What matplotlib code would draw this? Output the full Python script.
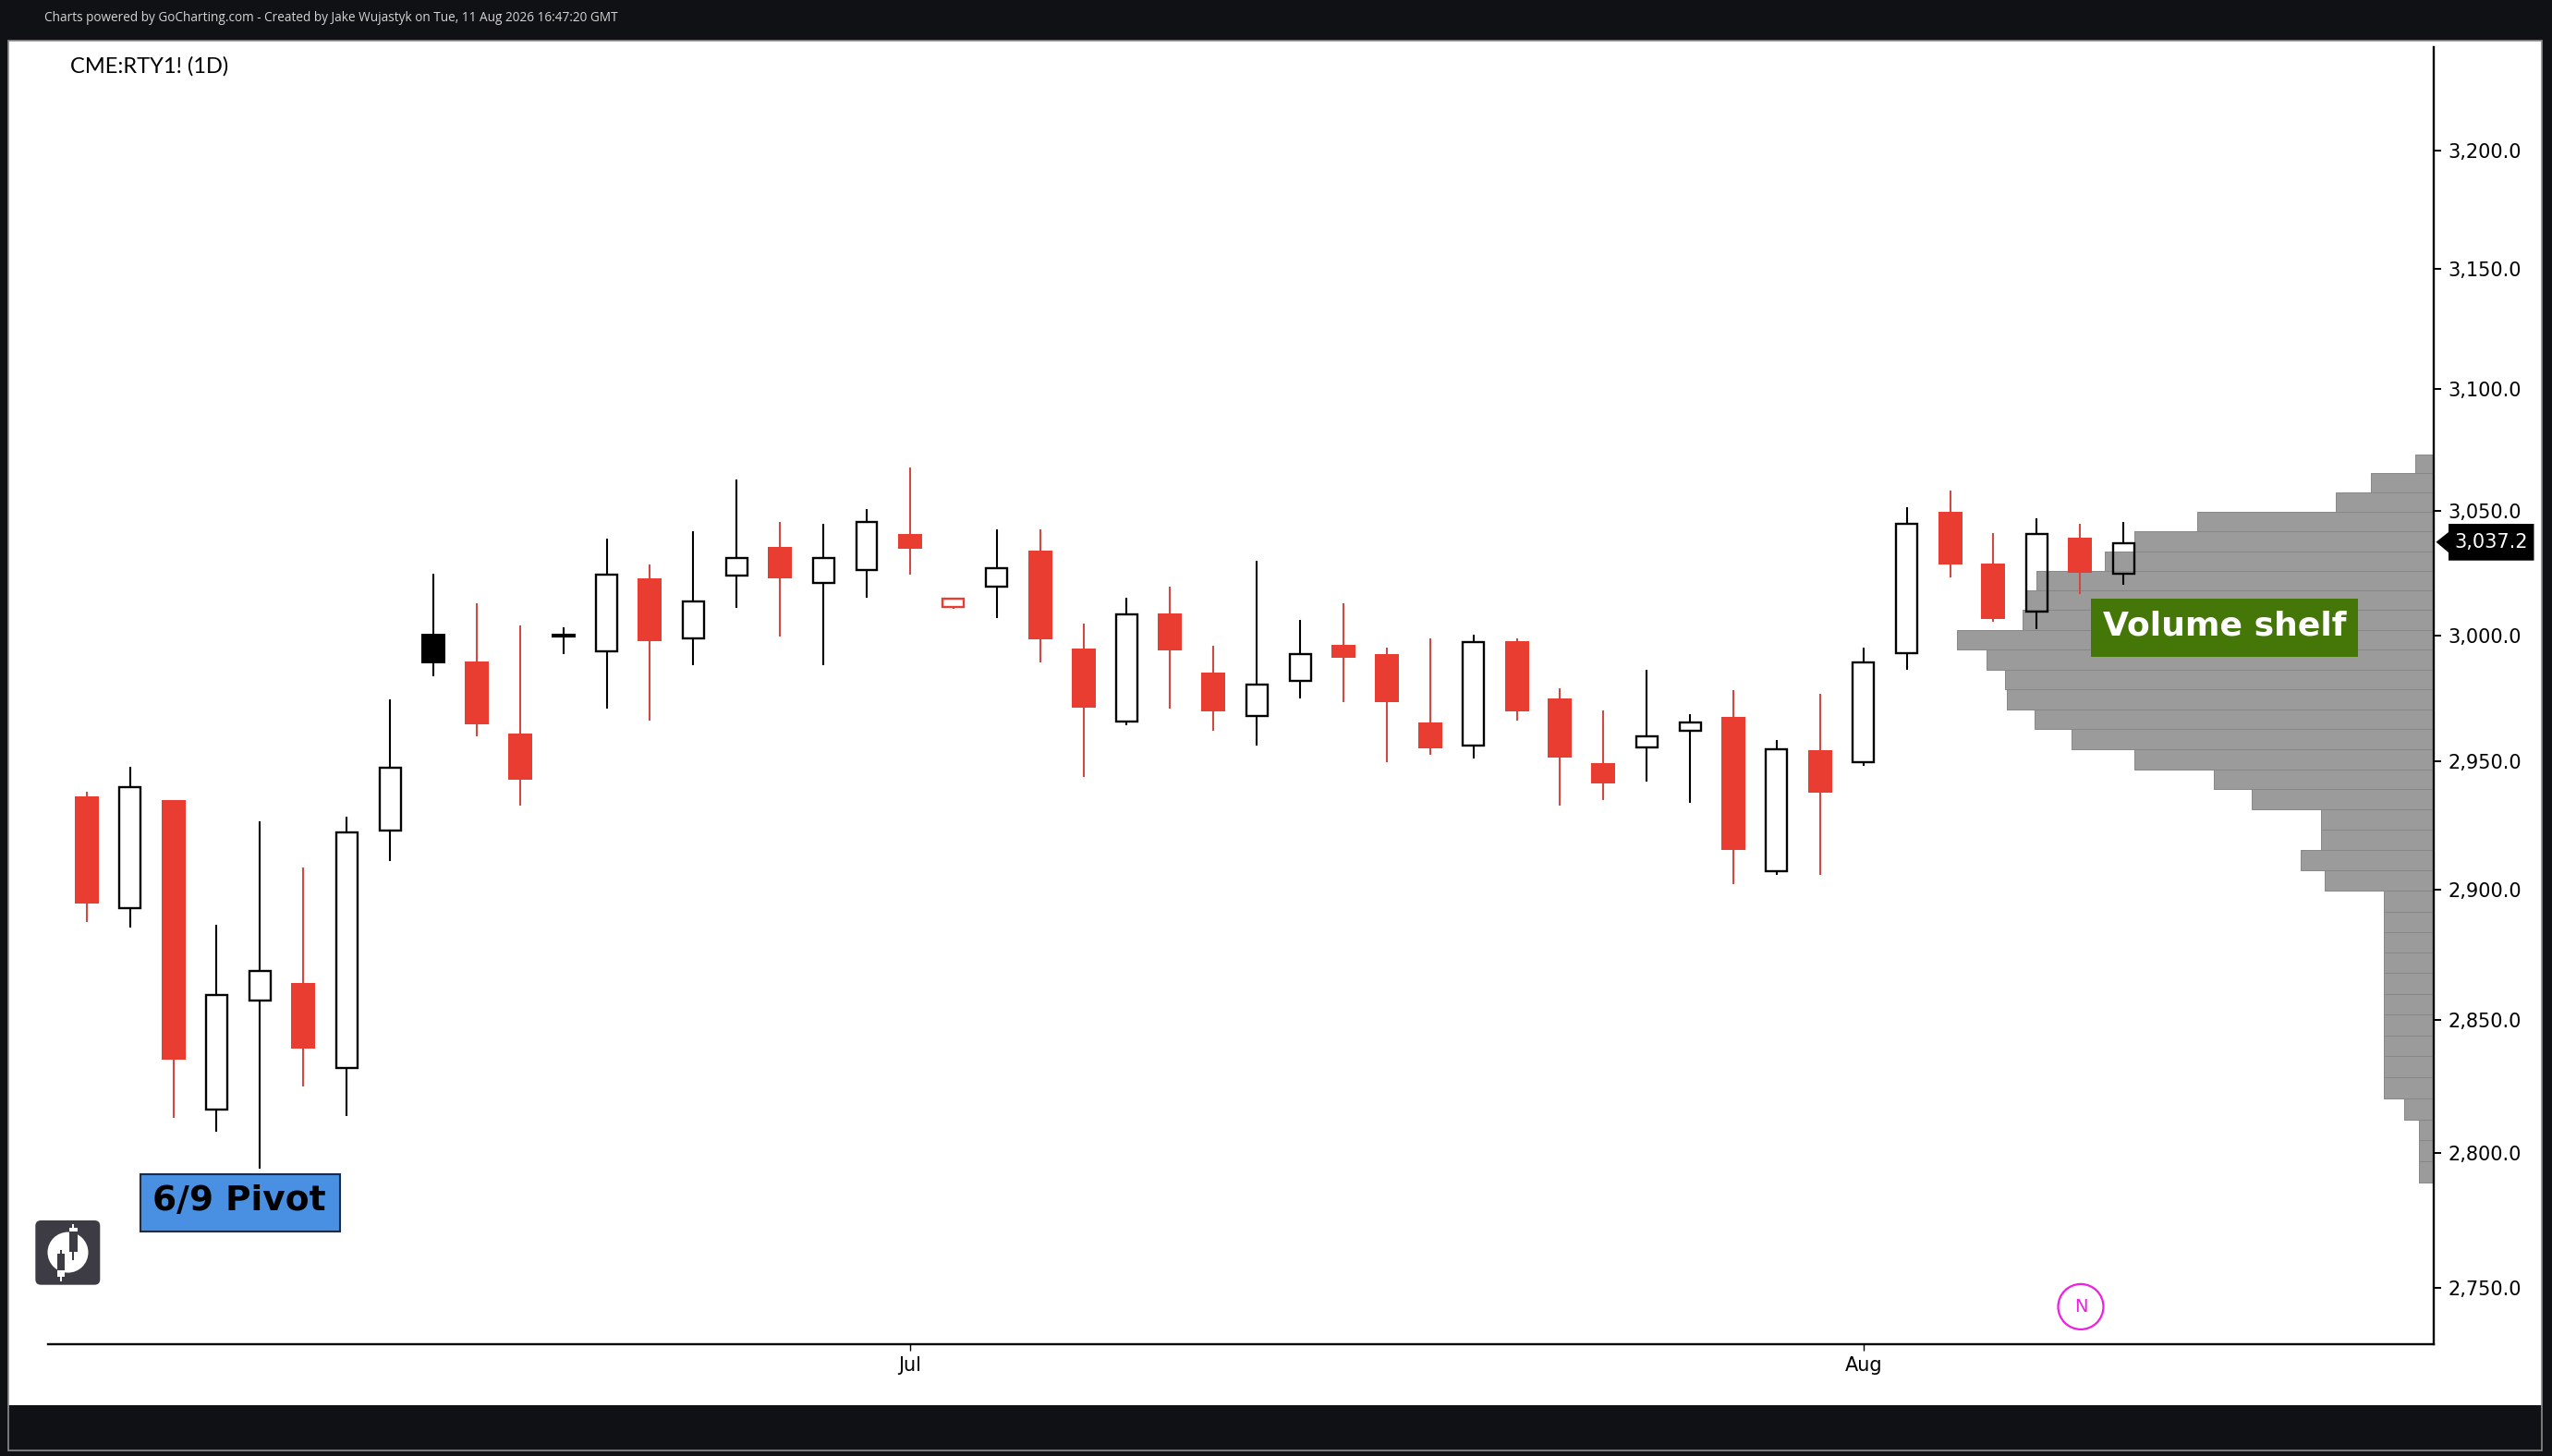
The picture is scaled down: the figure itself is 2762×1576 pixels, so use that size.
import matplotlib
matplotlib.use("Agg")
import matplotlib.pyplot as plt
from matplotlib.patches import Rectangle, FancyBboxPatch, Polygon, Circle
from matplotlib.ticker import FuncFormatter, NullLocator

# === Data ===
prior_close = 2950.0
opens = [2936.4, 2892.8, 2935.0, 2816.4, 2857.5, 2864.1, 2831.8, 2923.0, 3000.6, 2989.6,
         2961.0, 3000.0, 2993.5, 3022.9, 2998.8, 3023.9, 3035.6, 3021.0, 3026.3, 3040.8,
         3011.3, 3019.5, 3034.1, 2994.7, 2965.8, 3008.8, 2985.2, 2967.9, 2981.8, 2996.2,
         2992.5, 2965.4, 2956.2, 2997.7, 2974.9, 2949.3, 2955.4, 2962.0, 2967.6, 2907.3,
         2954.4, 2949.6, 2992.8, 3049.7, 3028.9, 3009.3, 3039.3, 3024.7]
highs = [2938.1, 2948.0, 2935.0, 2886.5, 2926.4, 2908.4, 2928.5, 2974.6, 3024.7, 3012.8,
         3003.8, 3003.1, 3038.8, 3028.5, 3041.8, 3062.8, 3045.5, 3044.8, 3050.8, 3068.0,
         3014.5, 3042.6, 3042.6, 3004.6, 3015.0, 3019.5, 2995.7, 3030.0, 3006.1, 3012.8,
         2995.0, 2998.6, 3000.1, 2998.6, 2978.9, 2970.1, 2986.2, 2968.6, 2978.1, 2958.4,
         2976.7, 2995.0, 3051.5, 3058.4, 3041.2, 3047.0, 3044.8, 3045.5]
lows = [2887.4, 2885.5, 2813.0, 2808.1, 2794.1, 2824.8, 2813.8, 2910.9, 2983.5, 2960.0,
        2932.5, 2992.3, 2971.0, 2965.9, 2987.9, 3010.8, 2999.6, 2987.9, 3015.2, 3024.2,
        3010.6, 3007.0, 2989.3, 2944.0, 2964.4, 2971.0, 2962.2, 2956.4, 2974.7, 2973.2,
        2949.8, 2952.7, 2951.2, 2965.9, 2932.5, 2934.7, 2941.9, 2933.9, 2902.2, 2905.8,
        2905.8, 2948.3, 2986.3, 3023.4, 3005.5, 3002.6, 3016.6, 3020.4]
closes = [2894.8, 2939.8, 2834.9, 2859.6, 2868.8, 2839.1, 2922.3, 2947.6, 2988.9, 2964.7,
          2942.8, 3000.0, 3024.2, 2997.8, 3013.7, 3030.9, 3022.9, 3030.9, 3045.8, 3034.8,
          3014.5, 3027.1, 2998.4, 2971.3, 3008.5, 2994.0, 2969.8, 2980.5, 2992.3, 2991.1,
          2973.5, 2955.2, 2997.4, 2969.8, 2951.5, 2941.4, 2960.0, 2965.2, 2915.5, 2954.9,
          2937.8, 2989.3, 3044.9, 3028.3, 3006.6, 3040.7, 3025.2, 3037.2]

# volume profile, top bin first
vp_edges = [3073.3, 3065.4, 3057.5, 3049.6, 3041.7, 3033.8, 3025.9, 3018.0, 3010.1, 3002.2,
            2994.3, 2986.4, 2978.5, 2970.6, 2962.7, 2954.8, 2946.9, 2939.0, 2931.1, 2923.2,
            2915.3, 2907.4, 2899.5, 2891.6, 2883.7, 2875.8, 2867.9, 2860.0, 2852.1, 2844.2,
            2836.3, 2828.4, 2820.5, 2812.6, 2804.7, 2796.8, 2788.9]
vp_volume = [20, 68, 106, 256, 324, 356, 430, 441, 445, 516,
             484, 464, 462, 432, 392, 324, 238, 197, 122, 122,
             144, 118, 54, 54, 54, 54, 54, 54, 54, 54,
             54, 54, 32, 16, 16, 16]

price_ticks = [2750, 2800, 2850, 2900, 2950, 3000, 3050, 3100, 3150, 3200]
month_pos = [19, 41]
month_labels = ["Jul", "Aug"]
last_price = 3037.2

# === Config ===
W, H = 2762, 1576
DARK = "#101114"
RED = "#ea3d32"
RED_WICK = "#cf4a42"
AX_L, AX_R, AX_T, AX_B = 52, 2634, 51, 1454.5

fig = plt.figure(figsize=(W / 100, H / 100), dpi=100, facecolor="white")
vp = fig.add_axes([AX_L / W, 1 - AX_B / H, (AX_R - AX_L) / W, (AX_B - AX_T) / H])
ax = vp.twiny()
ax.set_zorder(vp.get_zorder() + 1)
ax.patch.set_visible(False)

# === Volume profile (behind the candles) ===
vp_lows = vp_edges[1:]
vp_heights = [a - b for a, b in zip(vp_edges[:-1], vp_edges[1:])]
vp.barh(vp_lows, vp_volume, height=vp_heights, align="edge", color="#9b9b9b",
        edgecolor="#878787", linewidth=0.7)
vp.set_yscale("log")
vp.set_ylim(2729.7, 3244.6)
vp.set_xlim(AX_R - AX_L, 0)
vp.set_xticks([])
vp.yaxis.set_visible(False)
for s in vp.spines.values():
    s.set_visible(False)

# === Candles ===
prev = prior_close
for i in range(len(opens)):
    op, hi, lo, cl = opens[i], highs[i], lows[i], closes[i]
    edge = "black" if cl > prev else RED
    wick = "black" if cl > prev else RED_WICK
    top, bot = max(op, cl), min(op, cl)
    ax.vlines(i, top, hi, color=wick, linewidth=1.5, zorder=2)
    ax.vlines(i, lo, bot, color=wick, linewidth=1.5, zorder=2)
    if op == cl:
        ax.hlines(cl, i - 0.277, i + 0.277, color=edge, linewidth=3, zorder=3)
    elif cl > op:
        ax.bar(i, top - bot, bottom=bot, width=0.49, facecolor="none", edgecolor=edge,
               linewidth=1.7, zorder=3)
    else:
        ax.bar(i, top - bot, bottom=bot, width=0.554, color=edge, linewidth=0, zorder=3)
    prev = cl

# === Axes ===
ax.set_yscale("log")
ax.set_ylim(2729.7, 3244.6)
ax.set_xlim(-0.89, 54.16)
ax.xaxis.tick_bottom()
ax.yaxis.set_visible(True)  # twiny hides it
ax.yaxis.tick_right()
ax.set_yticks(price_ticks)
ax.yaxis.set_major_formatter(FuncFormatter(lambda v, _: f"{v:,.1f}"))
ax.yaxis.set_minor_locator(NullLocator())
ax.set_xticks(month_pos)
ax.set_xticklabels(month_labels)
ax.tick_params(axis="y", which="major", length=6, width=1.4, labelsize=15, pad=5)
ax.tick_params(axis="y", which="minor", length=0)
ax.tick_params(axis="x", length=5, width=1, labelsize=15, pad=5)
for s in ["top", "left"]:
    ax.spines[s].set_visible(False)
for s in ["bottom", "right"]:
    ax.spines[s].set_linewidth(1.7)

# === Overlay in pixel coordinates: frame, labels, logo ===
ov = fig.add_axes([0, 0, 1, 1], zorder=10)
ov.set_xlim(0, W)
ov.set_ylim(H, 0)
ov.axis("off")

ov.add_patch(Rectangle((0, 0), W, 44, color=DARK, lw=0))
ov.add_patch(Rectangle((0, 0), 9, H, color=DARK, lw=0))
ov.add_patch(Rectangle((2751, 0), 11, H, color=DARK, lw=0))
ov.add_patch(Rectangle((0, 1521), W, 55, color=DARK, lw=0))
ov.add_patch(Rectangle((9, 44), 2742, 1526, fill=False, edgecolor="#8c8c8c", lw=1.2))

ov.text(48, 19, "Charts powered by GoCharting.com - Created by Jake Wujastyk on Tue, 11 Aug 2026 16:47:20 GMT",
        color="#d4d4d4", fontsize=9.8, family="Open Sans", va="center", ha="left")
ov.text(76, 72, "CME:RTY1! (1D)", color="black", fontsize=17, family="Lato", va="center", ha="left")

# 6/9 Pivot box
ov.add_patch(Rectangle((152, 1271), 216, 62, facecolor="#4a90e2", edgecolor="#1c2c44", lw=1.5))
ov.text(165, 1310, "6/9 Pivot", color="black", fontsize=27, fontweight="bold", va="baseline", ha="left")

# Volume shelf box
ov.add_patch(Rectangle((2263, 648), 289, 63, facecolor="#457608", edgecolor="none"))
ov.text(2276, 687, "Volume shelf", color="white", fontsize=26, fontweight="bold", va="baseline", ha="left")

# last price tag
ov.add_patch(Polygon([(2636.5, 586.7), (2650, 576), (2650, 567), (2742.5, 567), (2742.5, 606.7),
                      (2650, 606.7), (2650, 598)], facecolor="black", edgecolor="none"))
ov.text(2696, 586.5, f"{last_price:,.1f}", color="white", fontsize=15, va="center", ha="center")

# news marker
ov.add_patch(Circle((2252, 1414.4), 24.5, fill=False, edgecolor="#f01ee0", lw=1.6))
ov.text(2252, 1414.4, "N", color="#f01ee0", fontsize=14, va="center", ha="center")

# logo
LOGO = "#3d3c45"
ov.add_patch(FancyBboxPatch((38.3, 1321), 70, 69.7, boxstyle="round,pad=0,rounding_size=6",
                            facecolor=LOGO, edgecolor="none"))
ov.add_patch(Circle((73.5, 1355.6), 22, facecolor="white", edgecolor="none"))
ov.add_patch(Rectangle((75, 1332.7), 9, 22.3, facecolor=LOGO, edgecolor="none"))
ov.add_patch(Rectangle((78.5, 1355), 1.8, 9, facecolor=LOGO, edgecolor="none"))
ov.add_patch(Rectangle((75, 1329), 9, 3.7, facecolor="white", edgecolor="none"))
ov.add_patch(Rectangle((78.5, 1325), 1.8, 4, facecolor="white", edgecolor="none"))
ov.add_patch(Rectangle((62.3, 1356.7), 8, 18.3, facecolor=LOGO, edgecolor="none"))
ov.add_patch(Rectangle((65.5, 1352.7), 1.8, 4, facecolor=LOGO, edgecolor="none"))
ov.add_patch(Rectangle((62.3, 1375), 8, 6.7, facecolor="white", edgecolor="none"))
ov.add_patch(Rectangle((65.5, 1381.7), 1.8, 5, facecolor="white", edgecolor="none"))

plt.savefig("out.png", dpi=100)
